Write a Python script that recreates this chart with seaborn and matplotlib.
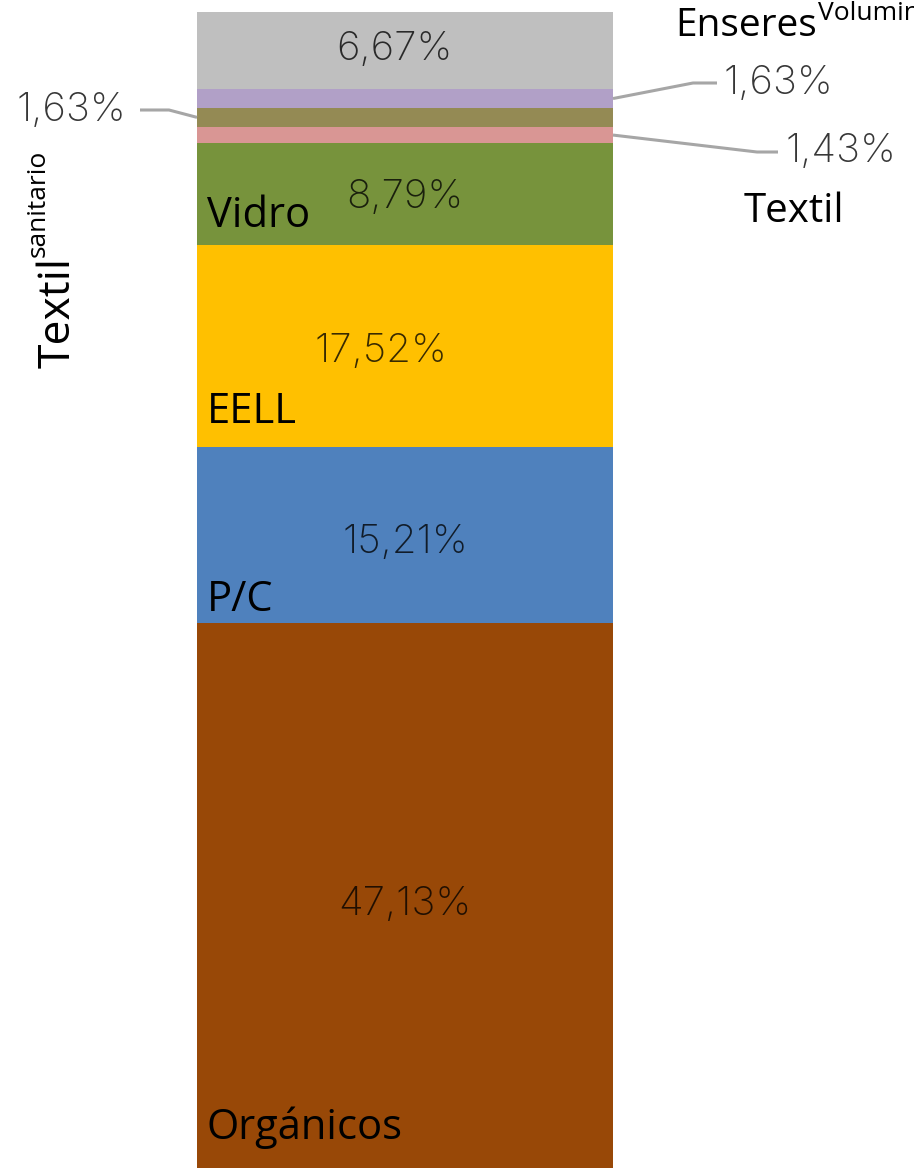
import seaborn as sns
import matplotlib.pyplot as plt

# Composition of the waste (%), listed from the bottom of the bar to the top
categories = ["Orgánicos", "P/C", "EELL", "Vidro", "Textil",
              "Textil sanitario", "Enseres Voluminosos", "Outros"]
values = [47.13, 15.21, 17.52, 8.79, 1.43, 1.63, 1.63, 6.67]
value_labels = ["47,13%", "15,21%", "17,52%", "8,79%", "1,43%", "1,63%", "1,63%", "6,67%"]
colors = ["#984807", "#4F81BD", "#FFC000", "#77933C", "#D99694",
          "#948A54", "#B1A0C7", "#BFBFBF"]

W, H = 914, 1171
X0, X1 = -0.9736, 1.2236
Y0, Y1 = -0.26, 101.05


def px(x, y):
    """Pixel position (from the top-left corner) -> data coordinates"""
    return X0 + x / W * (X1 - X0), Y1 - y / H * (Y1 - Y0)


sns.set_style("white")
fig = plt.figure(figsize=(W / 100, H / 100), dpi=100)
ax = fig.add_axes([0, 0, 1, 1])

# Stacked single bar
bottom = 0
bottoms = []
for cat, val, col in zip(categories, values, colors):
    sns.barplot(x=[0], y=[val], bottom=bottom, color=col, saturation=1,
                width=1, errorbar=None, native_scale=True, ax=ax, linewidth=0)
    bottoms.append(bottom)
    bottom += val

ax.set_xlim(X0, X1)
ax.set_ylim(Y0, Y1)
ax.axis("off")

pct_font = dict(family="Inter", fontweight="light", fontsize=29, color="black", alpha=0.78)
cat_font = dict(family="Open Sans", fontsize=30, color="black")

# Percent labels inside the bigger segments (x shift, y shift)
inside = {0: (0.0, -0.8), 1: (0.0, -0.6), 2: (-0.058, -0.5), 3: (0.0, -0.3), 7: (-0.026, 0.1)}
for i, (dx, dy) in inside.items():
    ax.text(dx, bottoms[i] + values[i] / 2 + dy, value_labels[i],
            ha="center", va="center", **pct_font)

# Category names at the bottom-left of the segments
for i, off in zip([0, 1, 2, 3], [3.5, 2.0, 3.1, 2.5]):
    ax.text(-0.477, bottoms[i] + off, categories[i], ha="left", va="center", **cat_font)

# Leader lines for the thin segments
line_kw = dict(color="#a6a6a6", lw=2.2, solid_capstyle="butt")
# Textil (right)
y = bottoms[4] + values[4] / 2
xa, ya = px(757, 152)
xb, yb = px(778, 152)
ax.plot([0.5, xa, xb], [y, ya, yb], **line_kw)
ax.text(*px(785, 152), value_labels[4], ha="left", va="center", **pct_font)
# Textil sanitario (left)
y = bottoms[5] + values[5] / 2
xa, ya = px(169, 110)
xb, yb = px(140, 110)
ax.plot([-0.5, xa, xb], [y, ya, yb], **line_kw)
ax.text(*px(126, 110), value_labels[5], ha="right", va="center", **pct_font)
# Enseres Voluminosos (right)
y = bottoms[6] + values[6] / 2
xa, ya = px(693, 83)
xb, yb = px(717, 83)
ax.plot([0.5, xa, xb], [y, ya, yb], **line_kw)
ax.text(*px(723, 83), value_labels[6], ha="left", va="center", **pct_font)

# Names of the thin segments, outside the bar
ax.text(*px(744, 212), "Textil", ha="left", va="center", fontsize=29,
        family="Open Sans", color="black")
ax.text(*px(675, 36), "Enseres", ha="left", va="baseline", fontsize=28,
        family="Open Sans", color="black")
ax.text(*px(818, 20), "Voluminosos", ha="left", va="baseline",
        family="Open Sans", fontsize=19, color="black", clip_on=True)
ax.text(*px(58, 368), "Textil", ha="center", va="bottom", rotation=90,
        family="Open Sans", fontsize=32, color="black")
ax.text(*px(38, 257), "sanitario", ha="center", va="bottom", rotation=90,
        family="Open Sans", fontsize=19, color="black")

fig.savefig("out.png", dpi=100)
